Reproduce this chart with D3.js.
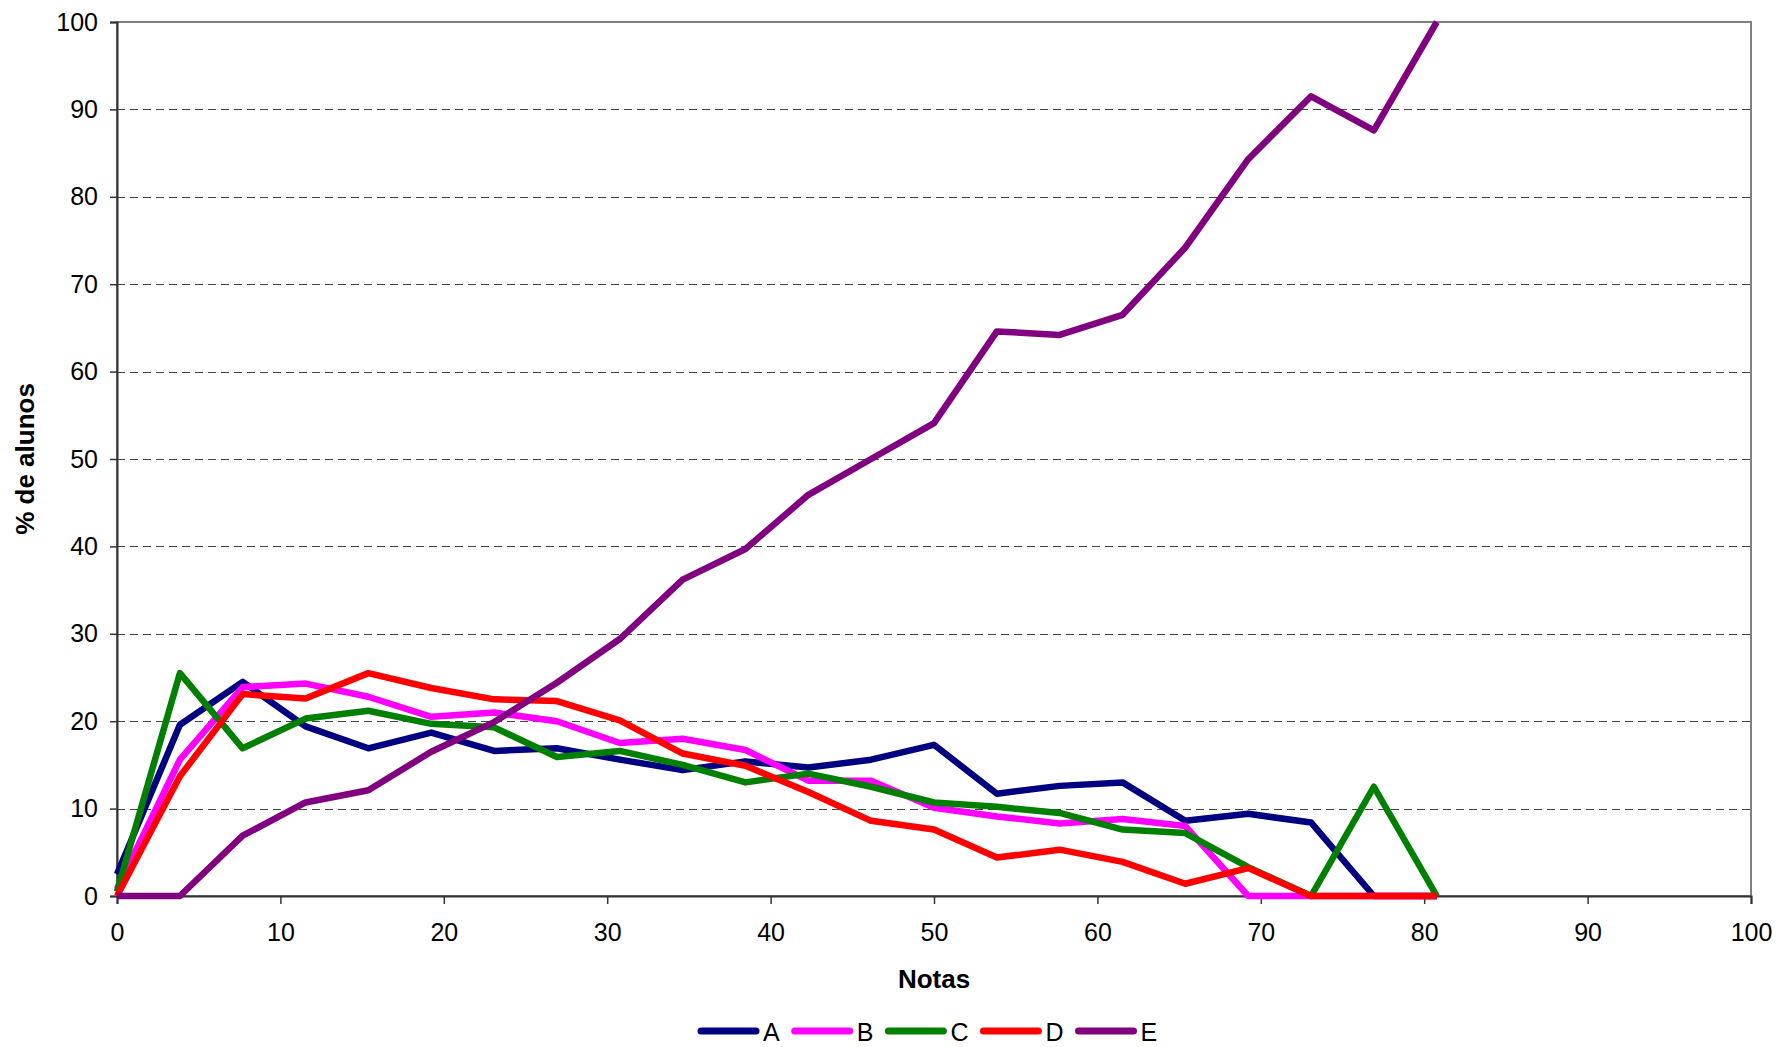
<!DOCTYPE html>
<html>
<head>
<meta charset="utf-8">
<script src="https://cdn.jsdelivr.net/npm/d3@7"></script>
<style>
  html, body { margin: 0; padding: 0; background: #fff; }
  svg { display: block; font-family: "Liberation Sans", Arial, sans-serif; }
</style>
</head>
<body>
<svg id="chart" width="1778" height="1047"></svg>
<script>
// ---- data ----
const notas = [0, 3.85, 7.69, 11.54, 15.38, 19.23, 23.08, 26.92, 30.77, 34.62, 38.46,
               42.31, 46.15, 50, 53.85, 57.69, 61.54, 65.38, 69.23, 73.08, 76.92, 80.77];
const serieA = [2.5, 19.6, 24.5, 19.4, 16.9, 18.7, 16.6, 16.9, 15.6, 14.4, 15.4,
                14.7, 15.6, 17.3, 11.7, 12.6, 13.0, 8.6, 9.4, 8.4, 0, 0];
const serieB = [0.8, 15.6, 23.9, 24.3, 22.8, 20.5, 21.0, 20.0, 17.5, 18.0, 16.7,
                13.2, 13.2, 10.1, 9.1, 8.3, 8.8, 8.0, 0, 0, 0, 0];
const serieC = [0.5, 25.5, 16.9, 20.3, 21.2, 19.7, 19.3, 15.9, 16.6, 15.0, 13.0,
                14.0, 12.5, 10.7, 10.2, 9.5, 7.6, 7.2, 3.3, 0, 12.5, 0];
const serieD = [0, 13.7, 23.1, 22.6, 25.5, 23.8, 22.5, 22.3, 20.1, 16.3, 14.9,
                11.9, 8.6, 7.6, 4.4, 5.3, 3.9, 1.4, 3.2, 0, 0, 0];
const serieE = [0, 0, 6.9, 10.7, 12.1, 16.5, 19.9, 24.4, 29.4, 36.2, 39.7,
                45.9, 50.0, 54.1, 64.6, 64.2, 66.5, 74.2, 84.3, 91.5, 87.6, 100];
const seriesNames = ["A", "B", "C", "D", "E"];
const seriesColors = ["#000080", "#FF00FF", "#008000", "#FF0000", "#800080"];
const xTicks = [0, 10, 20, 30, 40, 50, 60, 70, 80, 90, 100];
const yTicks = [0, 10, 20, 30, 40, 50, 60, 70, 80, 90, 100];
const xLabel = "Notas";
const yLabel = "% de alunos";

const seriesValues = [serieA, serieB, serieC, serieD, serieE];

// ---- layout ----
const svg = d3.select("#chart");
const pLeft = 117, pRight = 1751, pTop = 22, pBottom = 896;

const x = d3.scaleLinear().domain([0, 100]).range([pLeft, pRight]);
const y = d3.scaleLinear().domain([0, 100]).range([pBottom, pTop]);

// gridlines
svg.append("g")
  .selectAll("line")
  .data(yTicks.filter(d => d > 0 && d < 100))
  .join("line")
  .attr("x1", pLeft).attr("x2", pRight)
  .attr("y1", d => Math.round(y(d)) + 0.5).attr("y2", d => Math.round(y(d)) + 0.5)
  .attr("stroke", "#444")
  .attr("stroke-width", 1)
  .attr("stroke-dasharray", "8,5");

// frame (top & right in gray)
svg.append("rect")
  .attr("x", pLeft).attr("y", pTop)
  .attr("width", pRight - pLeft).attr("height", pBottom - pTop)
  .attr("fill", "none")
  .attr("stroke", "#808080")
  .attr("stroke-width", 2);

// axes
const yAxis = d3.axisLeft(y).tickValues(yTicks).tickSize(7).tickPadding(12).tickFormat(d3.format("d"));
const gy = svg.append("g").attr("transform", `translate(${pLeft},0)`).call(yAxis);
gy.select(".domain").attr("stroke", "#333").attr("stroke-width", 2);
gy.selectAll(".tick line").attr("stroke", "#333").attr("stroke-width", 1.5);
gy.selectAll(".tick text").attr("font-size", 25).attr("fill", "#000")
  .attr("font-family", "'Liberation Sans', Arial, sans-serif");

const xAxis = d3.axisBottom(x).tickValues(xTicks).tickSize(8).tickPadding(19).tickFormat(d3.format("d"));
const gx = svg.append("g").attr("transform", `translate(0,${pBottom})`).call(xAxis);
gx.select(".domain").attr("stroke", "#333").attr("stroke-width", 2);
gx.selectAll(".tick line").attr("stroke", "#333").attr("stroke-width", 1.5);
gx.selectAll(".tick text").attr("font-size", 25).attr("fill", "#000")
  .attr("font-family", "'Liberation Sans', Arial, sans-serif");

// lines
const line = d3.line().x((d, i) => x(notas[i])).y(d => y(d));
svg.append("g")
  .selectAll("path")
  .data(seriesValues)
  .join("path")
  .attr("d", d => line(d))
  .attr("fill", "none")
  .attr("stroke", (d, i) => seriesColors[i])
  .attr("stroke-width", 6.5)
  .attr("stroke-linejoin", "round");

// axis titles
svg.append("text")
  .attr("x", (pLeft + pRight) / 2).attr("y", 988)
  .attr("text-anchor", "middle")
  .attr("font-size", 26).attr("font-weight", "bold")
  .text(xLabel);

svg.append("text")
  .attr("transform", `translate(34,${(pTop + pBottom) / 2}) rotate(-90)`)
  .attr("text-anchor", "middle")
  .attr("font-size", 26).attr("font-weight", "bold")
  .text(yLabel);

// legend
const legend = svg.append("g");
let lx = 698;
const ly = 1031;
seriesNames.forEach((name, i) => {
  legend.append("line")
    .attr("x1", lx + 3).attr("x2", lx + 58)
    .attr("y1", ly).attr("y2", ly)
    .attr("stroke", seriesColors[i])
    .attr("stroke-width", 7)
    .attr("stroke-linecap", "round");
  const t = legend.append("text")
    .attr("x", lx + 65).attr("y", ly + 10)
    .attr("font-size", 25)
    .text(name);
  const w = t.node().getComputedTextLength();
  lx += 65 + w + 12;
});
</script>
</body>
</html>
